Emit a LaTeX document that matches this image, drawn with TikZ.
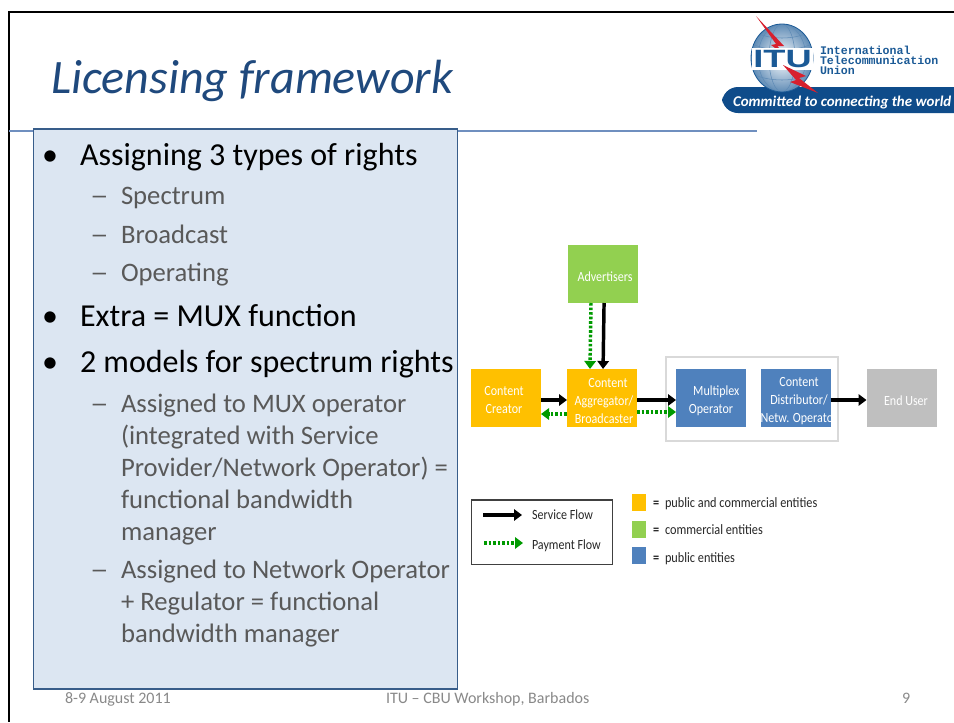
\documentclass[tikz,border=0pt]{standalone}
\usepackage{fontspec}
\setmainfont{Carlito}
\newfontfamily\monof{Liberation Mono}
\newfontfamily\condf[FakeStretch=0.86]{Carlito}
\newfontfamily\widef[FakeStretch=1.4]{Carlito}
\newfontfamily\ituf[FakeStretch=1.45]{Liberation Sans}
\usetikzlibrary{arrows.meta,shadings}
\definecolor{titleblue}{HTML}{1F497D}
\definecolor{panelfill}{HTML}{DCE6F2}
\definecolor{paneledge}{HTML}{385D8A}
\definecolor{rulecol}{HTML}{6F8FBF}
\definecolor{subgray}{HTML}{595959}
\definecolor{footgray}{HTML}{898989}
\definecolor{orangebox}{HTML}{FFC000}
\definecolor{greenbox}{HTML}{92D050}
\definecolor{bluebox}{HTML}{4F81BD}
\definecolor{greybox}{HTML}{BFBFBF}
\definecolor{payg}{HTML}{009A00}
\definecolor{itublue}{HTML}{0F4C8A}
\definecolor{ituink}{HTML}{1B5A96}
\definecolor{itured}{HTML}{D7202E}
\tikzset{
  lbl/.style={inner sep=0pt,outer sep=0pt,anchor=base west},
  mainline/.style={lbl,font=\fontsize{24}{26}\selectfont,text=black},
  subline/.style={lbl,font=\fontsize{20}{22}\selectfont,text=subgray},
  dashline/.style={lbl,font=\fontsize{20}{22}\widef,text=subgray},
  footline/.style={lbl,font=\fontsize{12}{14}\selectfont,text=footgray},
  flowbox/.style={inner sep=0pt,outer sep=0pt,minimum width=52.5pt,minimum height=43.5pt,draw=none},
  flowtext/.style={inner sep=0pt,outer sep=0pt,text=white,align=center,font=\fontsize{10.5}{13.5}\condf},
  legendtxt/.style={lbl,font=\fontsize{10.7}{12}\condf,text=black!85},
  itutxt/.style={lbl,text height=5pt,text depth=0pt,font=\fontsize{8.7}{9}\monof\bfseries,text=ituink},
  swatch/.style={inner sep=0pt,outer sep=0pt,minimum width=10.5pt,minimum height=12.5pt},
  service/.style={draw=black,line width=2.6pt,-{Triangle[length=6pt,width=8.5pt]}},
  payment/.style={draw=payg,line width=2.6pt,dash pattern=on 2pt off 1.4pt,-{Triangle[length=6pt,width=8.5pt,sep=0pt]}},
}
\begin{document}
\begin{tikzpicture}[x=0.75pt,y=-0.75pt]
\useasboundingbox (0,0) rectangle (954,722);
\fill[white] (0,0) rectangle (954,722);
% slide frame
\draw[black,line width=1.9pt] (954,12) -- (9,12) -- (9,722);
\draw[rulecol,line width=0.8pt] (9,131) -- (757,131);
% title
\node[lbl,font=\fontsize{36}{38}\selectfont\itshape,text=titleblue] (title) at (51,93) {Licensing framework};
% left panel
\node[draw=paneledge,fill=panelfill,line width=0.8pt,inner sep=0pt,outer sep=0pt,anchor=north west,minimum width=318pt,minimum height=420pt] (panel) at (33.5,129) {};
\foreach \nm/\yy in {ba/165,bb/326,bc/372}{\node[mainline] (\nm) at (42,\yy) {•};}
\node[mainline] (m1) at (80,165) {Assigning 3 types of rights};
\node[mainline] (m2) at (80,326) {Extra = MUX function};
\node[mainline] (m3) at (80,372) {2 models for spectrum rights};
\foreach \nm/\yy in {da/204,db/243,dc/281,dd/412,de/578}{\node[dashline] (\nm) at (90,\yy) {–};}
\node[subline] (s1) at (121,204) {Spectrum};
\node[subline] (s2) at (121,243) {Broadcast};
\node[subline] (s3) at (121,281) {Operating};
\node[subline] (s4) at (121,412) {Assigned to MUX operator};
\node[subline] (s5) at (121,444) {(integrated with Service};
\node[subline] (s6) at (121,476) {Provider/Network Operator) =};
\node[subline] (s7) at (121,508) {functional bandwidth};
\node[subline] (s8) at (121,540) {manager};
\node[subline] (s9) at (121,578) {Assigned to Network Operator};
\node[subline] (s10) at (121,610) {+ Regulator = functional};
\node[subline] (s11) at (121,642) {bandwidth manager};
% footer
\node[footline] (f1) at (65,703) {8-9 August 2011};
\node[footline] (f2) at (386,703) {ITU – CBU Workshop, Barbados};
\node[footline] (f3) at (902,703) {9};
% logo
\fill[itublue,rounded corners=12pt] (722,113) -- (722,87) -- (970,87) -- (970,113) -- cycle;
\node[lbl,font=\fontsize{11.2}{12}\selectfont\bfseries\itshape,text=white] (motto) at (733,106) {Committed to connecting the world};
\shade[inner color=white,outer color=ituink!70!white] (782,58) ellipse (31 and 34);
\begin{scope}
\clip (782,58) ellipse (31 and 34);
\draw[ituink!70,line width=.4pt] (782,58) ellipse (13 and 34) (782,58) ellipse (24 and 34) (752,44) .. controls (770,52) and (794,52) .. (812,44) (754,32) .. controls (770,40) and (794,40) .. (810,32) (752,74) .. controls (770,82) and (794,82) .. (812,74);
\end{scope}
\draw[ituink,line width=.6pt] (782,58) ellipse (31 and 34);
\fill[itured] (756,16) -- (784,46) -- (777,46) -- (791,60) -- (771,45) -- (776,44) -- cycle;
\fill[white] (752,48) rectangle (813,70);
\fill[itured] (783,65) -- (806,76) -- (799,78) -- (818,93) -- (790,82) -- (796,80) -- cycle;
\node[inner sep=0pt,font=\fontsize{18.75}{20}\ituf\bfseries,text=ituink] (itu) at (782.5,59) {ITU};
\node[itutxt] (i1) at (820,54) {International};
\node[itutxt] (i2) at (820,64) {Telecommunication};
\node[itutxt] (i3) at (820,74) {Union};
% flow diagram
\node[draw=black!15,line width=1.2pt,fill=white,inner sep=0pt,outer sep=0pt,anchor=north west,minimum width=129pt,minimum height=63pt] (grp) at (666,357) {};
\node[flowbox,fill=greenbox] (adv) at (603,274) {};
\node[flowbox,fill=orangebox] (cc) at (506,398) {};
\node[flowbox,fill=orangebox] (ag) at (602,398) {};
\node[flowbox,fill=bluebox] (mx) at (711,398) {};
\node[flowbox,fill=bluebox] (cd) at (795.5,398) {};
\node[flowbox,fill=greybox] (eu) at (901.5,398) {};
\node[flowtext] (advt) at (605,277) {Advertisers};
\node[flowtext] (cct) at (504,400) {Content\\Creator};
\node[flowtext] (agt) at (604,401) {\hspace*{6pt}Content\\Aggregator/\\Broadcaster};
\node[flowtext] (mxt) at (711,401) {\hspace*{8pt}Multiplex\\Operator};
\begin{scope}
\clip (761,369) rectangle (830,427);
\node[flowtext] (cdt) at (799,401) {Content\\Distributor/\\Netw. Operator};
\end{scope}
\node[flowtext] (eut) at (906,401) {End User};
\draw[payment] ([xshift=-9pt]adv.south) -- ([xshift=-9pt]ag.north);
\draw[service] ([xshift=0.8pt]adv.south) -- ([xshift=0.8pt]ag.north);
\draw[service] ([yshift=-1.5pt]cc.east) -- ([yshift=-1.5pt]ag.west);
\draw[payment] ([yshift=-12pt]ag.west) -- ([yshift=-12pt]cc.east);
\draw[service] ([yshift=-1.5pt]ag.east) -- ([yshift=-1.5pt]mx.west);
\draw[payment] ([yshift=-10.5pt]ag.east) -- ([yshift=-10.5pt]mx.west);
\draw[service] ([yshift=-1.5pt]cd.east) -- ([yshift=-1.5pt]eu.west);
% legend
\node[draw=black!75,line width=.9pt,fill=white,inner sep=0pt,outer sep=0pt,anchor=north west,minimum width=105.5pt,minimum height=48.5pt] (lg) at (471.5,500) {};
\coordinate (sa) at (483,515); \coordinate (sb) at (522,515);
\coordinate (pa) at (484,543); \coordinate (pb) at (523,543);
\draw[service] (sa) -- (sb);
\draw[payment] (pa) -- (pb);
\node[lbl,font=\fontsize{10.5}{12}\condf,text=black!85] (l1) at (532,519) {Service Flow};
\node[lbl,font=\fontsize{10.5}{12}\condf,text=black!85] (l2) at (532,549) {Payment Flow};
\node[swatch,fill=orangebox] (w1) at (639,502.5) {};
\node[swatch,fill=greenbox] (w2) at (639,529.5) {};
\node[swatch,fill=bluebox] (w3) at (639,555.5) {};
\node[legendtxt] (e1) at (653,507) {\textbf{=}};
\node[legendtxt] (e2) at (653,534) {\textbf{=}};
\node[legendtxt] (e3) at (653,562) {\textbf{=}};
\node[legendtxt] (t1) at (665,507) {public and commercial entities};
\node[legendtxt] (t2) at (665,534) {commercial entities};
\node[legendtxt] (t3) at (665,562) {public entities};
\end{tikzpicture}
\end{document}
